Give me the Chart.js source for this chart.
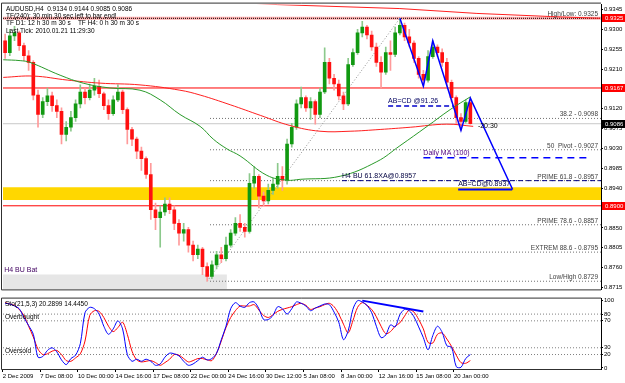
<!DOCTYPE html>
<html>
<head>
<meta charset="utf-8">
<script src="https://cdn.jsdelivr.net/npm/chart.js@4.4.0/dist/chart.umd.min.js"></script>
<style>
  body { margin: 0; background: #fff; }
  #wrap { position: relative; width: 625px; height: 383px; overflow: hidden; background: #fff; }
  #main { position: absolute; left: 0; top: 0; }
  #osc { position: absolute; left: 0; top: 294px; }
</style>
</head>
<body>
<div id="wrap">
  <canvas id="main" width="625" height="294"></canvas>
  <canvas id="osc" width="625" height="89"></canvas>
</div>
<script>
// AUDUSD H4 - une bougie par 8 h, index 0..99
const firstOpen = 0.9274;
const closes = [
  0.9247,0.9285,0.9292,0.9263,0.9240,0.9225,0.9151,0.9107,0.9136,0.9149,
  0.9127,0.9114,0.9062,0.9078,0.9100,0.9131,0.9158,0.9145,0.9162,0.9171,
  0.9154,0.9127,0.9109,0.9140,0.9158,0.9118,0.9073,0.9051,0.9024,0.9007,
  0.8971,0.8891,0.8873,0.8886,0.8904,0.8891,0.8860,0.8838,0.8846,0.8811,
  0.8789,0.8802,0.8762,0.8740,0.8766,0.8789,0.8780,0.8811,0.8838,0.8860,
  0.8851,0.8842,0.8951,0.8967,0.8922,0.8911,0.8935,0.8949,0.8967,0.8958,
  0.9040,0.9078,0.9131,0.9145,0.9122,0.9136,0.9107,0.9158,0.9225,0.9189,
  0.9176,0.9149,0.9131,0.9220,0.9247,0.9292,0.9305,0.9287,0.9260,0.9225,
  0.9203,0.9247,0.9243,0.9292,0.9309,0.9283,0.9269,0.9234,0.9198,0.9185,
  0.9238,0.9260,0.9247,0.9225,0.9180,0.9145,0.9100,0.9091,0.9134,0.9086
];
const highs = [
  0.9289,0.9300,0.9307,0.9296,0.9269,0.9252,0.9229,0.9162,0.9145,0.9167,
  0.9158,0.9140,0.9122,0.9091,0.9114,0.9140,0.9174,0.9167,0.9176,0.9189,
  0.9185,0.9158,0.9140,0.9149,0.9174,0.9162,0.9122,0.9078,0.9056,0.9033,
  0.9011,0.8996,0.8906,0.8900,0.8918,0.8918,0.8900,0.8869,0.8860,0.8851,
  0.8820,0.8811,0.8806,0.8771,0.8775,0.8797,0.8806,0.8829,0.8846,0.8873,
  0.8880,0.8860,0.8973,0.8989,0.8971,0.8931,0.8949,0.8962,0.8996,0.8989,
  0.9051,0.9087,0.9140,0.9169,0.9149,0.9145,0.9140,0.9167,0.9258,0.9234,
  0.9198,0.9185,0.9158,0.9234,0.9256,0.9300,0.9318,0.9309,0.9296,0.9269,
  0.9238,0.9260,0.9274,0.9305,0.9325,0.9314,0.9300,0.9274,0.9238,0.9207,
  0.9252,0.9274,0.9265,0.9256,0.9234,0.9185,0.9149,0.9109,0.9140,0.9144
];
const lows = [
  0.9234,0.9240,0.9274,0.9252,0.9229,0.9207,0.9140,0.9078,0.9100,0.9127,
  0.9114,0.9100,0.9040,0.9047,0.9069,0.9091,0.9122,0.9131,0.9140,0.9151,
  0.9145,0.9118,0.9096,0.9105,0.9136,0.9109,0.9040,0.9036,0.9007,0.8980,
  0.8962,0.8869,0.8846,0.8806,0.8878,0.8882,0.8846,0.8811,0.8820,0.8795,
  0.8775,0.8780,0.8744,0.8729,0.8735,0.8757,0.8771,0.8775,0.8806,0.8833,
  0.8842,0.8829,0.8838,0.8940,0.8895,0.8900,0.8904,0.8926,0.8940,0.8935,
  0.8949,0.9033,0.9073,0.9122,0.9114,0.9096,0.9085,0.9100,0.9154,0.9176,
  0.9162,0.9140,0.9118,0.9127,0.9216,0.9243,0.9283,0.9278,0.9252,0.9216,
  0.9167,0.9198,0.9207,0.9238,0.9287,0.9274,0.9260,0.9225,0.9189,0.9171,
  0.9180,0.9234,0.9238,0.9216,0.9171,0.9136,0.9085,0.9071,0.9087,0.9085
];

// moyennes mobiles
const maGreenX = [-0.4, 3.2, 5.3, 11.7, 16.6, 22.3, 28.7, 33, 37.2, 41.5, 44.3, 47.2, 50, 55.7, 60, 62.8, 71.3, 79.1, 84, 89.8, 94.7, 99];
const maGreenY = [0.9231,0.9229,0.9225,0.9196,0.9178,0.9167,0.9162,0.9140,0.9107,0.9080,0.9051,0.9029,0.9013,0.8969,0.8958,0.8960,0.8967,0.9000,0.9036,0.9080,0.9118,0.9147];
const maRedX = [-0.4, 6, 13.2, 20.2, 28.7, 37.2, 41.5, 47.9, 54.3, 60.6, 67, 73.4, 79.8, 86.2, 94, 99.6];
const maRedY = [0.9191,0.9194,0.9185,0.9178,0.9174,0.9162,0.9151,0.9129,0.9105,0.9082,0.9069,0.9069,0.9073,0.9078,0.9085,0.9080];
const maTopX = [40, 58, 84, 100.4, 116, 126.6];
const maTopY = [0.9366, 0.9356, 0.9347, 0.9336, 0.9329, 0.9325];

// motif ABCD et jambe XA
const abcdX = [84, 89, 91, 97, 99, 108];
const abcdY = [0.9325, 0.9171, 0.9274, 0.9071, 0.9144, 0.8937];
const xaX = [43, 84];
const xaY = [0.8729, 0.9325];

// niveaux
const fibLevels = [0.9098, 0.9027, 0.8957, 0.8857, 0.8795, 0.8729];
const fibLabels = ['38.2 - 0.9098', '50  Pivot - 0.9027', 'PRIME 61.8 - 0.8957', 'PRIME 78.6 - 0.8857', 'EXTREM 88.6 - 0.8795', 'Low/High 0.8729'];
const highLevel = 0.9325;
const redLevels = [0.9167, 0.8900];
const bidLevel = 0.9086;
const zone = [0.8913, 0.8942];
const greyBoxTop = 0.8744;
const priceTicks = [0.8715,0.8760,0.8805,0.8850,0.8895,0.8940,0.8985,0.9030,0.9075,0.9120,0.9165,0.9210,0.9255,0.9300,0.9345];

// stochastique (21,5,3)
const stoMain = [
  96,95,92,88,75,63,50,16,17,26,30,24,12,5,14,19,36,82,90,88,
  80,62,50,58,70,58,20,10,13,10,13,10,4,6,16,22,21,18,10,4,
  6,11,16,12,14,22,42,62,88,97,92,90,97,98,88,72,72,78,91,88,
  80,88,98,96,92,85,89,92,95,94,83,68,42,55,87,100,98,93,82,62,
  45,49,64,61,79,87,85,76,61,45,27,48,62,53,33,31,2,1,14,20
];
const stoSignal = [
  97,95,93,87,78,62,46,28,20,21,25,26,20,11,10,15,21,40,78,85,
  84,75,62,54,60,68,50,25,12,9,10,11,8,4,8,13,20,19,14,9,
  11,14,14,12,11,22,40,60,75,85,92,92,92,94,86,78,75,79,84,87,
  89,91,94,96,93,87,89,91,94,96,91,80,65,52,70,90,97,93,87,76,
  62,51,54,62,67,77,86,83,72,58,38,37,50,52,43,32,19,8,7,11
];
const stoLevels = [80, 70, 30, 20];
const stoTicks = [0, 20, 30, 70, 80, 100];
const stoTrendX = [76, 89];
const stoTrendY = [100, 84];

const dateTickPos = [-0.5, 7.5, 15.5, 23.5, 31.5, 39.5, 47.5, 55.5, 63.5, 71.5, 79.5, 87.5, 95.5];
const dateLabels = ['2 Dec 2009', '7 Dec 08:00', '10 Dec 00:00', '14 Dec 16:00', '17 Dec 08:00', '22 Dec 00:00', '24 Dec 16:00', '30 Dec 12:00', '5 Jan 08:00', '8 Jan 00:00', '12 Jan 16:00', '15 Jan 08:00', '20 Jan 00:00'];

const xMin = -0.45, xMax = 126.8;
const FONT = 'Liberation Sans';

// --- construction des bougies
const opens = closes.map((c, i) => i === 0 ? firstOpen : closes[i - 1]);
const bull = closes.map((c, i) => c >= opens[i]);
const wicks = closes.map((c, i) => ({ x: i, y: [lows[i], highs[i]] }));
const bodies = closes.map((c, i) => ({ x: i, y: [opens[i], c] }));
const pts = (xs, ys) => xs.map((x, i) => ({ x: x, y: ys[i] }));
const hline = (v, a, b) => [{ x: a, y: v }, { x: b, y: v }];

function lineDs(data, color, width, dash, order) {
  return {
    type: 'line', data: data, borderColor: color, borderWidth: width,
    borderDash: dash || [], pointRadius: 0, fill: false, tension: 0,
    order: order, clip: 0
  };
}

const datasets = [
  // zone jaune et boite grise
  Object.assign(lineDs(hline(zone[1], xMin, xMax), 'rgba(0,0,0,0)', 0, null, 60), { fill: { value: zone[0] }, backgroundColor: '#ffd700' }),
  Object.assign(lineDs(hline(greyBoxTop, xMin, 47.2), 'rgba(0,0,0,0)', 0, null, 60), { fill: 'start', backgroundColor: '#e6e6e6' }),
  lineDs(hline(bidLevel, xMin, xMax), '#c8c8c8', 1, null, 50),
  lineDs(hline(highLevel, xMin, xMax), 'rgba(255,110,110,0.55)', 3, null, 50),
  lineDs(hline(highLevel, xMin, xMax), '#000', 1, [1, 1], 49),
  lineDs(hline(redLevels[0], xMin, xMax), '#ff0000', 1, null, 45),
  lineDs(hline(redLevels[1], xMin, xMax), '#ff0000', 1, null, 45),
  ...fibLevels.map(v => lineDs(hline(v, 43.6, xMax), '#707070', 1, [1, 2], 48)),
  lineDs(pts(xaX, xaY), '#909090', 1, [1, 2], 47),
  // bougies
  {
    type: 'bar', data: wicks, barThickness: 1, grouped: false, order: 30,
    backgroundColor: bull.map(b => b ? '#8cc98c' : '#ff9a9a')
  },
  {
    type: 'bar', data: bodies, barThickness: 3, grouped: false, order: 29,
    backgroundColor: bull.map(b => b ? '#119911' : '#ff1010')
  },
  // moyennes
  Object.assign(lineDs(pts(maGreenX, maGreenY), '#2a9a2a', 1, null, 20), { tension: 0.4 }),
  Object.assign(lineDs(pts(maRedX, maRedY), '#ff2020', 1, null, 20), { tension: 0.4 }),
  lineDs(pts(maTopX, maTopY), '#ff2020', 1, null, 20),
  // objets du motif
  lineDs(hline(0.9126, 81.5, 95.3), '#0000cc', 1.5, [5, 3], 10),
  lineDs(hline(0.9009, 89, 124), '#0000ff', 1.5, [7, 5], 10),
  lineDs(hline(0.8957, 71.7, xMax), '#000080', 1, [5, 3], 10),
  lineDs(hline(0.8937, 96.4, 107.9), '#0000ff', 2, null, 10),
  lineDs(pts(abcdX, abcdY), '#0000ff', 1.5, null, 5)
];

// textes posés sur le graphique (x en index, y en prix)
const notes = [
  { text: 'AB=CD @91.26', x: 81.5, y: 0.9126, dy: -3, color: '#000060' },
  { text: 'Daily MA (100)', x: 89, y: 0.9009, dy: -3, color: '#500080' },
  { text: 'H4 BU 61.8XA@0.8957', x: 71.7, y: 0.8957, dy: -3, color: '#000040' },
  { text: 'AB=CD@0.8937', x: 96.4, y: 0.8937, dy: -3, color: '#000040' },
  { text: '-20:30', x: 100.6, y: bidLevel, dy: 4, color: '#000' },
  { text: 'H4 BU Bat', x: -0.2, y: greyBoxTop, dy: -3, color: '#400060' }
];
const header = [
  'AUDUSD,H4  0.9134 0.9144 0.9085 0.9086',
  'TF(240): 30 min 30 sec left to bar end!',
  'TF D1: 12 h 30 m 30 s    TF H4: 0 h 30 m 30 s',
  'Last Tick: 2010.01.21 11:29:30'
];

const mainText = {
  id: 'mainText',
  afterDatasetsDraw(chart) {
    const { ctx, chartArea: a, scales: { x, y } } = chart;
    ctx.save();
    ctx.font = '7px "' + FONT + '"';
    ctx.textBaseline = 'alphabetic';
    notes.forEach(n => {
      ctx.fillStyle = n.color;
      ctx.textAlign = 'left';
      ctx.fillText(n.text, x.getPixelForValue(n.x), y.getPixelForValue(n.y) + n.dy);
    });
    ctx.fillStyle = '#404040';
    ctx.textAlign = 'right';
    ctx.font = '6.5px "' + FONT + '"';
    fibLevels.forEach((v, i) => ctx.fillText(fibLabels[i], a.right - 3, y.getPixelForValue(v) - 2));
    ctx.fillText('High/Low: ' + highLevel.toFixed(4), a.right - 3, y.getPixelForValue(highLevel) - 2);
    ctx.fillStyle = '#000';
    ctx.textAlign = 'left';
    ctx.font = '6.5px "' + FONT + '"';
    header.forEach((t, i) => ctx.fillText(t, a.left + 3, a.top + 6 + i * 7.3));
    ctx.restore();
  },
  afterDraw(chart) {
    const { ctx, chartArea: a, scales: { y } } = chart;
    ctx.save();
    ctx.strokeStyle = '#303030';
    ctx.lineWidth = 1;
    ctx.beginPath();
    ctx.moveTo(a.right, a.top - 1.5); ctx.lineTo(a.left - 1.5, a.top - 1.5);
    ctx.lineTo(a.left - 1.5, a.bottom + 0.5); ctx.lineTo(a.right, a.bottom + 0.5);
    ctx.stroke();
    // étiquettes de prix sur l'axe
    const boxes = [[highLevel, '#ff0000'], [redLevels[0], '#ff0000'], [redLevels[1], '#ff0000'], [bidLevel, '#000']];
    ctx.font = '6px "' + FONT + '"';
    ctx.textBaseline = 'middle';
    boxes.forEach(([v, c]) => {
      const py = Math.round(y.getPixelForValue(v));
      ctx.fillStyle = c;
      ctx.fillRect(a.right + 1, py - 4, 24, 8);
      ctx.fillStyle = '#fff';
      ctx.fillText(v.toFixed(4), a.right + 4, py + 0.5);
    });
    ctx.restore();
  }
};

new Chart(document.getElementById('main'), {
  type: 'bar',
  data: { datasets: datasets },
  options: {
    responsive: false,
    animation: false,
    devicePixelRatio: 1,
    layout: { padding: { left: 3, top: 3, right: 0, bottom: 1 } },
    plugins: { legend: { display: false }, tooltip: { enabled: false } },
    scales: {
      x: { type: 'linear', min: xMin, max: xMax, offset: false, display: false, grid: { offset: false } },
      y: {
        position: 'right', min: 0.87105, max: 0.9356,
        afterBuildTicks: s => { s.ticks = priceTicks.map(v => ({ value: v })); },
        afterFit: s => { s.width = 24; },
        ticks: { autoSkip: false, color: '#000', padding: 1, font: { size: 6, family: FONT }, callback: v => Number(v).toFixed(4) },
        grid: { drawOnChartArea: false, drawTicks: true, tickLength: 2, color: '#000' },
        border: { color: '#000' }
      }
    }
  },
  plugins: [mainText]
});

// --- panneau stochastique
const idx = stoMain.map((v, i) => i);
const oscText = {
  id: 'oscText',
  afterDatasetsDraw(chart) {
    const { ctx, chartArea: a, scales: { y } } = chart;
    ctx.save();
    ctx.fillStyle = '#000';
    ctx.font = '6.5px "' + FONT + '"';
    ctx.fillText('Sto(21,5,3) 20.2899 14.4450', a.left + 2, a.top + 7);
    ctx.fillText('Overbought', a.left + 2, y.getPixelForValue(70) - 2);
    ctx.fillText('Oversold', a.left + 2, y.getPixelForValue(20) - 2);
    ctx.strokeStyle = '#303030';
    ctx.beginPath();
    ctx.moveTo(a.right, a.top - 0.5); ctx.lineTo(a.left - 1.5, a.top - 0.5);
    ctx.lineTo(a.left - 1.5, a.bottom + 0.5); ctx.lineTo(a.right, a.bottom + 0.5);
    ctx.stroke();
    ctx.restore();
  }
};

new Chart(document.getElementById('osc'), {
  type: 'line',
  data: {
    datasets: [
      ...stoLevels.map(v => lineDs(hline(v, xMin, xMax), '#808080', 1, [1, 2], 20)),
      Object.assign(lineDs(pts(idx, stoSignal), '#ff0000', 1, null, 5), { tension: 0.3 }),
      Object.assign(lineDs(pts(idx, stoMain), '#0000ff', 1, null, 4), { tension: 0.3 }),
      lineDs(pts(stoTrendX, stoTrendY), '#0000ff', 2, null, 1)
    ]
  },
  options: {
    responsive: false,
    animation: false,
    devicePixelRatio: 1,
    layout: { padding: { left: 3, top: 3, right: 0, bottom: 0 } },
    plugins: { legend: { display: false }, tooltip: { enabled: false } },
    scales: {
      x: {
        type: 'linear', min: xMin, max: xMax, offset: false,
        afterBuildTicks: s => { s.ticks = dateTickPos.map(v => ({ value: v })); },
        afterFit: s => { s.height = 14; },
        ticks: { autoSkip: false, maxRotation: 0, align: 'start', color: '#000', padding: 1, font: { size: 6, family: FONT }, callback: (v, i) => dateLabels[i] },
        grid: { drawOnChartArea: false, drawTicks: true, tickLength: 3, color: '#000' },
        border: { color: '#000' }
      },
      y: {
        position: 'right', min: -1.5, max: 103,
        afterBuildTicks: s => { s.ticks = stoTicks.map(v => ({ value: v })); },
        afterFit: s => { s.width = 24; },
        ticks: { autoSkip: false, color: '#000', padding: 1, font: { size: 6, family: FONT } },
        grid: { drawOnChartArea: false, drawTicks: true, tickLength: 2, color: '#000' },
        border: { color: '#000' }
      }
    }
  },
  plugins: [oscText]
});
</script>
</body>
</html>
